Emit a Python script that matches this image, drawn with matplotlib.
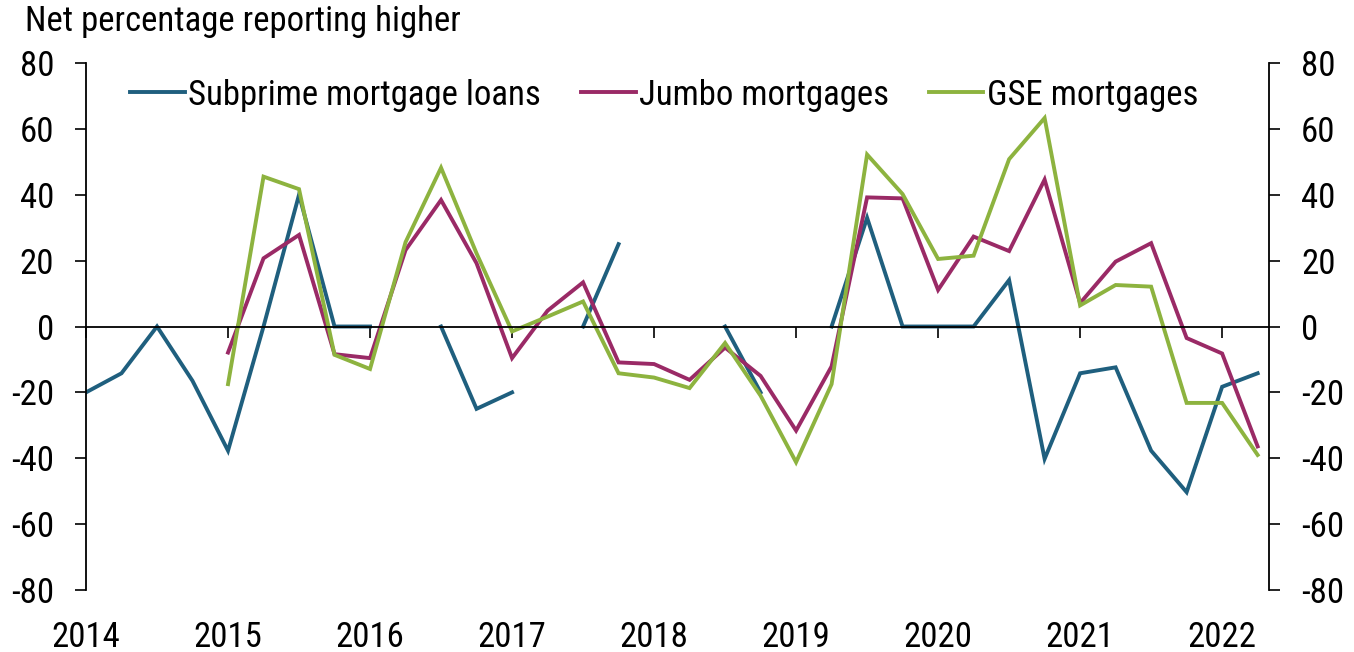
import numpy as np
import matplotlib
matplotlib.use("Agg")
import matplotlib.pyplot as plt

plt.rcParams['font.family'] = ['Roboto Condensed', 'Liberation Sans', 'DejaVu Sans']

years = [2014, 2015, 2016, 2017, 2018, 2019, 2020, 2021, 2022]
quarters = np.arange(2014.0, 2022.26, 0.25)  # 2014Q1 .. 2022Q2

nan = np.nan
subprime = [-20, -14.2, 0, -16.5,
            -37.7, 0, 40, 0,
            0, nan, 0, -25,
            -20, nan, 0, 25,
            nan, nan, 0, -20,
            nan, 0, 33, 0,
            0, 0, 14.1, -40.2,
            -14.2, -12.4, -37.7, -50.3,
            -18.3, -14.2]
jumbo = [nan, nan, nan, nan,
         -7.9, 20.7, 27.8, -8.4,
         -9.6, 23.2, 38.4, 19.2,
         -9.6, 4.8, 13.4, -10.9,
         -11.4, -16.2, -6.4, -15.0,
         -31.6, -12.1, 39.2, 38.9,
         11.1, 27.3, 22.9, 44.6,
         7.1, 19.7, 25.3, -3.5,
         -8.2, -36.4]
gse = [nan, nan, nan, nan,
       -17.5, 45.5, 41.7, -8.6,
       -12.9, 25.6, 48.2, 22.2,
       -1.5, 3.0, 7.6, -14.2,
       -15.5, -18.7, -5.0, -21.0,
       -41.2, -17.5, 52.2, 40.2,
       20.5, 21.5, 50.8, 63.3,
       6.4, 12.6, 12.1, -23.2,
       -23.2, -39.0]

labels = ["Subprime mortgage loans", "Jumbo mortgages", "GSE mortgages"]
colors = ["#1f5f7e", "#9a2a66", "#8db33f"]
yticks = [-80, -60, -40, -20, 0, 20, 40, 60, 80]

W, H = 1354, 652
fig = plt.figure(figsize=(W / 100, H / 100), dpi=100)
ax = fig.add_axes([86 / W, 1 - 590 / H, (1269 - 86) / W, (590 - 63) / H])

for vals, lab, c in zip([subprime, jumbo, gse], labels, colors):
    ax.plot(quarters, vals, color=c, lw=2.8, label=lab, solid_joinstyle='miter')

ax.set_xlim(2014, 2022.33)
ax.set_ylim(-80, 80)
ax.set_yticks(yticks)
ax.set_yticklabels([str(v) for v in yticks])
fs = 25
ax.tick_params(axis='y', direction='out', length=8, width=1.2, labelsize=fs, pad=15)

ax.spines['top'].set_visible(False)
ax.spines['right'].set_visible(False)
ax.spines['bottom'].set_position(('data', 0))
ax.spines['left'].set_linewidth(1.3)
ax.spines['bottom'].set_linewidth(1.3)
ax.set_xticks(years)
ax.set_xticklabels([])
ax.tick_params(axis='x', direction='out', length=8, width=1.2)

sec = ax.secondary_xaxis('bottom')
sec.spines['bottom'].set_visible(False)
sec.set_xticks(years)
sec.set_xticklabels([str(y) for y in years])
sec.tick_params(length=0, labelsize=fs, pad=22)

ax2 = ax.twinx()
ax2.set_ylim(-80, 80)
ax2.set_yticks(yticks)
ax2.set_yticklabels([str(v) for v in yticks])
ax2.tick_params(axis='y', direction='out', length=8, width=1.2, labelsize=fs, pad=15)
for s in ['top', 'left', 'bottom']:
    ax2.spines[s].set_visible(False)
ax2.spines['right'].set_linewidth(1.3)

leg = ax.legend(loc='center left', bbox_to_anchor=((130 - 86) / (1269 - 86), (590 - 95) / 527),
                ncol=3, frameon=False, fontsize=fs, handlelength=1.58, handletextpad=0.09,
                columnspacing=1.15, borderaxespad=0, borderpad=0)

fig.text(25 / W, 1 - 22 / H, "Net percentage reporting higher", fontsize=fs,
         ha='left', va='center')

fig.savefig("out.png", dpi=100)
